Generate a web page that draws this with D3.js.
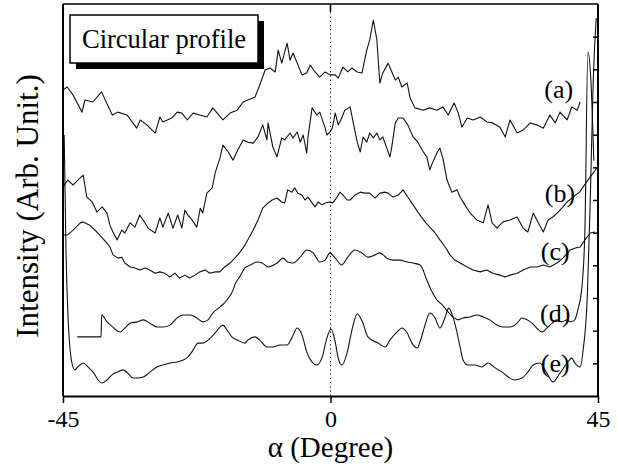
<!DOCTYPE html>
<html>
<head>
<meta charset="utf-8">
<script src="https://cdn.jsdelivr.net/npm/d3@7"></script>
<style>
  body { margin: 0; background: #fff; }
</style>
</head>
<body>
<div id="chart"></div>
<script>
// profiles: [angle (deg), intensity (arb.)]
var curveA = [[-45.0,9.37],[-44.3,9.46],[-43.3,9.21],[-41.8,8.69],[-41.3,9.06],[-40.0,9.00],[-38.5,9.31],[-37.9,9.06],[-36.7,8.60],[-35.8,8.69],[-34.2,8.60],[-32.6,8.20],[-32.0,8.45],[-30.9,8.30],[-29.5,8.05],[-28.7,8.54],[-28.2,8.39],[-26.7,8.51],[-25.8,8.69],[-25.0,8.66],[-24.1,8.45],[-23.1,8.66],[-22.0,8.60],[-20.8,8.54],[-19.8,8.82],[-18.1,8.45],[-16.9,8.66],[-15.7,8.75],[-14.7,9.00],[-13.9,9.06],[-12.7,9.15],[-11.9,9.52],[-11.0,9.98],[-10.2,10.04],[-9.3,9.92],[-8.8,10.59],[-8.2,10.19],[-7.3,10.80],[-6.8,10.28],[-6.3,10.50],[-5.6,10.19],[-4.8,9.83],[-4.0,9.89],[-3.4,10.13],[-2.6,9.92],[-1.8,9.76],[-0.9,9.92],[-0.1,9.83],[0.8,9.83],[1.3,9.73],[2.1,10.07],[2.9,9.92],[3.6,10.04],[4.5,9.92],[5.3,9.89],[6.1,10.59],[6.6,10.90],[7.2,11.51],[7.8,10.90],[8.3,9.58],[8.8,9.89],[9.7,10.19],[10.4,9.89],[10.9,9.67],[11.4,9.76],[12.0,9.46],[12.9,9.58],[13.4,9.12],[14.2,8.82],[15.6,8.75],[16.7,8.82],[17.9,8.75],[18.9,8.85],[19.8,8.60],[20.8,8.97],[21.5,8.66],[22.1,8.23],[23.0,8.51],[24.0,8.45],[25.2,8.54],[26.3,8.39],[27.3,8.36],[28.5,8.23],[29.4,7.93],[30.2,8.45],[31.4,8.05],[32.4,8.14],[33.6,8.36],[34.7,8.30],[35.8,8.20],[36.9,8.60],[37.8,8.36],[38.6,8.69],[39.8,8.45],[40.6,8.85],[41.5,8.75],[42.0,9.00]];

var curveB = [[-45.0,6.40],[-44.2,6.61],[-43.3,6.46],[-42.5,6.61],[-41.6,6.76],[-41.0,6.09],[-40.1,5.94],[-39.3,5.63],[-38.4,5.79],[-37.6,5.60],[-37.1,5.23],[-36.6,5.02],[-35.9,4.78],[-35.1,5.08],[-34.6,4.99],[-33.7,5.30],[-32.9,5.17],[-32.1,5.54],[-31.2,5.30],[-30.7,5.14],[-29.5,4.99],[-28.7,5.45],[-28.2,5.17],[-27.3,5.60],[-26.5,5.14],[-25.7,5.54],[-25.0,5.14],[-24.5,5.69],[-24.0,5.54],[-23.3,5.39],[-22.5,5.17],[-21.9,5.75],[-21.5,5.60],[-20.8,6.21],[-19.9,6.37],[-19.4,6.83],[-18.6,7.28],[-18.1,7.68],[-17.2,7.47],[-16.4,7.22],[-15.6,7.53],[-14.7,7.84],[-13.9,7.77],[-13.0,7.74],[-12.2,7.93],[-11.4,8.30],[-10.7,7.84],[-10.5,8.36],[-9.7,7.62],[-9.0,7.32],[-8.2,7.90],[-7.7,7.84],[-6.8,8.05],[-6.3,7.90],[-5.6,8.08],[-5.1,7.77],[-4.6,7.99],[-4.0,7.44],[-3.8,7.90],[-3.1,8.82],[-2.3,8.60],[-1.8,8.69],[-0.9,8.20],[-0.6,7.99],[-0.1,8.08],[0.3,8.20],[0.8,8.66],[1.3,8.30],[1.9,8.51],[2.4,8.75],[3.3,8.85],[3.8,8.39],[4.5,7.77],[5.0,7.47],[5.5,7.93],[6.1,7.77],[6.6,8.05],[7.2,7.90],[7.8,8.05],[8.3,7.84],[8.8,7.93],[10.0,7.32],[10.3,7.62],[10.9,8.36],[11.4,8.51],[12.2,8.51],[13.0,8.30],[13.9,7.93],[14.7,7.77],[15.4,7.53],[16.2,7.32],[16.7,6.92],[17.2,7.16],[17.9,7.44],[18.4,7.59],[18.9,7.28],[19.6,6.61],[20.4,6.24],[21.3,6.31],[21.8,6.09],[22.6,5.85],[23.5,5.60],[24.6,5.39],[25.7,5.30],[26.5,5.85],[27.2,5.30],[28.0,5.14],[29.0,5.33],[30.2,5.39],[31.4,5.48],[32.4,5.14],[33.2,5.02],[34.1,5.60],[34.9,5.33],[35.8,5.02],[36.6,5.39],[37.4,5.48],[38.3,5.63],[39.1,5.79],[39.8,5.94],[40.8,6.09],[41.9,6.24],[42.5,6.40],[43.3,6.61],[44.2,6.83],[44.8,6.98]];

var curveC = [[-45.0,4.93],[-44.2,4.93],[-43.3,5.08],[-42.1,5.30],[-41.6,5.33],[-40.5,5.23],[-39.3,5.02],[-38.4,4.84],[-37.6,4.68],[-37.1,4.56],[-36.6,4.32],[-35.7,4.22],[-35.1,4.25],[-34.6,4.07],[-33.7,3.95],[-32.9,3.92],[-32.1,3.86],[-31.2,3.92],[-30.4,3.86],[-29.5,3.76],[-28.7,3.80],[-27.9,3.76],[-27.0,3.64],[-26.2,3.76],[-25.4,3.61],[-24.5,3.70],[-23.7,3.61],[-22.8,3.70],[-22.0,3.80],[-21.1,3.86],[-20.3,3.76],[-19.4,3.80],[-18.6,3.80],[-17.8,3.95],[-16.9,4.07],[-16.1,4.22],[-15.2,4.41],[-14.4,4.62],[-13.9,4.78],[-13.0,5.08],[-12.2,5.39],[-11.4,5.75],[-10.5,5.91],[-9.8,6.00],[-9.0,6.06],[-8.2,5.94],[-7.7,5.91],[-7.2,6.31],[-6.5,6.24],[-6.0,6.37],[-5.5,6.21],[-4.8,6.15],[-4.3,6.00],[-3.8,6.09],[-3.1,5.91],[-2.6,5.79],[-2.1,5.94],[-1.4,5.85],[-0.9,5.91],[-0.1,5.94],[0.4,5.91],[1.1,6.09],[1.6,6.24],[2.1,6.15],[2.8,6.00],[3.3,6.00],[4.1,6.15],[5.0,6.24],[5.8,6.21],[6.6,6.21],[7.5,6.06],[8.3,6.21],[9.2,6.24],[9.7,6.21],[10.5,6.09],[11.4,6.15],[12.2,6.31],[13.0,6.09],[13.9,5.85],[14.7,5.63],[15.9,5.33],[16.7,5.17],[17.6,4.99],[18.4,4.78],[19.3,4.56],[20.1,4.32],[20.9,4.16],[21.8,4.07],[23.0,3.95],[24.0,3.86],[25.2,3.80],[26.3,3.86],[27.3,3.76],[28.5,3.70],[29.4,3.64],[30.2,3.70],[31.4,3.76],[32.4,3.86],[33.6,3.95],[34.7,3.95],[35.8,4.01],[36.9,3.95],[38.1,4.07],[39.1,4.22],[40.3,4.47],[41.2,4.53],[42.0,4.56],[42.8,4.78],[43.7,4.99],[44.5,5.02]];

var curveD = [[-42.6,1.81],[-38.6,1.81],[-38.5,2.48],[-37.6,2.27],[-36.6,2.11],[-35.4,1.96],[-34.6,2.08],[-33.7,2.23],[-32.5,2.27],[-31.5,2.33],[-30.4,2.23],[-29.2,2.11],[-28.2,2.11],[-27.0,2.17],[-25.8,2.39],[-24.8,2.48],[-23.6,2.48],[-22.5,2.39],[-21.5,2.27],[-20.6,2.33],[-19.8,2.54],[-18.6,2.72],[-17.4,2.94],[-16.4,3.24],[-16.1,3.40],[-15.2,3.67],[-14.4,3.92],[-13.5,4.01],[-12.4,4.10],[-11.5,4.07],[-10.5,3.95],[-9.0,4.07],[-8.0,4.22],[-7.2,4.10],[-6.3,4.07],[-5.1,4.25],[-4.0,4.47],[-2.9,4.38],[-1.8,4.10],[-0.9,4.16],[-0.1,4.38],[0.8,4.22],[1.9,4.01],[2.9,4.25],[4.1,4.47],[5.3,4.38],[6.3,4.25],[7.5,4.32],[8.3,4.38],[9.5,4.22],[10.5,4.16],[11.7,4.16],[12.9,4.10],[13.9,4.07],[15.1,4.01],[16.2,3.55],[17.1,3.18],[17.9,2.94],[18.8,2.79],[19.8,2.57],[20.6,2.42],[21.5,2.33],[22.3,2.39],[23.5,2.42],[24.6,2.48],[25.7,2.42],[26.8,2.33],[28.0,2.17],[29.0,2.11],[30.2,2.11],[31.4,2.23],[32.2,2.39],[33.1,2.33],[33.9,2.23],[34.7,2.08],[35.6,1.96],[36.4,2.08],[37.3,2.23],[38.1,2.33],[38.9,2.27],[39.8,2.33],[40.3,2.27],[41.1,2.33],[41.6,2.63],[42.3,3.34],[42.8,5.08],[43.3,10.53],[43.8,9.67],[44.3,7.20]];

var curveE = [[-44.8,7.99],[-44.5,4.47],[-44.2,2.63],[-43.5,1.01],[-43.0,0.80],[-42.5,0.89],[-41.6,1.01],[-40.8,0.89],[-39.8,0.70],[-39.1,0.49],[-38.4,0.40],[-37.6,0.49],[-36.8,0.64],[-35.9,0.73],[-34.9,0.80],[-34.1,0.70],[-33.2,0.55],[-32.4,0.55],[-31.5,0.58],[-30.4,0.73],[-29.2,0.89],[-28.2,0.95],[-27.0,1.01],[-25.8,1.04],[-24.8,1.10],[-24.0,1.19],[-23.1,1.41],[-22.3,1.62],[-21.5,1.62],[-20.6,1.71],[-19.4,1.93],[-18.6,2.11],[-18.1,2.17],[-17.4,2.02],[-16.6,1.81],[-15.6,1.71],[-14.4,1.62],[-13.9,1.71],[-12.7,1.81],[-11.9,1.71],[-10.7,1.50],[-9.7,1.50],[-8.5,1.56],[-7.3,1.56],[-6.5,1.78],[-5.6,2.08],[-4.8,1.87],[-4.0,1.35],[-3.1,1.04],[-2.3,0.95],[-1.4,1.19],[-0.6,1.78],[0.1,2.05],[0.8,1.65],[1.3,1.16],[1.9,0.95],[2.8,1.32],[3.6,2.02],[4.5,2.51],[5.3,2.30],[6.3,1.81],[8.0,1.62],[9.2,1.50],[10.0,1.71],[11.2,1.96],[12.0,2.08],[12.9,1.93],[13.7,1.62],[14.6,1.47],[15.1,1.68],[15.9,2.17],[16.7,2.54],[17.6,2.39],[18.4,2.08],[19.3,2.42],[19.9,2.69],[20.6,2.42],[21.3,1.93],[21.8,1.50],[22.3,1.10],[23.1,0.95],[24.3,0.95],[25.5,0.89],[26.5,1.01],[27.7,0.86],[28.9,0.73],[29.9,0.58],[31.0,0.49],[32.2,0.55],[33.2,0.73],[34.1,0.95],[35.2,1.01],[36.4,0.70],[37.4,0.43],[38.6,0.70],[39.8,1.01],[40.6,1.16],[41.1,1.01],[42.0,0.89],[42.5,1.41],[43.2,3.03],[43.7,6.00],[44.2,9.67],[44.7,11.57]];

var seriesLabels = ["(a)", "(b)", "(c)", "(d)", "(e)"];
// where each label sits, in data units
var labelAngles = [38.4, 38.6, 37.8, 37.8, 37.8];
var labelLevels = [9.12, 5.94, 4.16, 2.27, 0.73];

var xTicks = [-45, 0, 45];
var yTicks = [1, 2, 3, 4, 5, 6, 7, 8, 9, 10, 11];

var serif = "'Liberation Serif', 'DejaVu Serif', 'Times New Roman', serif";

var margin = {top: 4, right: 20, bottom: 74, left: 63};
var totalW = 618, totalH = 470;
var width = totalW - margin.left - margin.right;
var height = totalH - margin.top - margin.bottom;

var x = d3.scaleLinear().domain([-45, 45]).range([0, width]);
var y = d3.scaleLinear().domain([0, 12]).range([height, 0]);

var svg = d3.select("#chart").append("svg")
    .attr("width", totalW)
    .attr("height", totalH)
    .attr("font-family", serif)
    .style("display", "block")
  .append("g")
    .attr("transform", "translate(" + margin.left + "," + margin.top + ")");

//dotted line at 0 degree
svg.append("line")
  .attr("x1", x(0)).attr("x2", x(0))
  .attr("y1", 0).attr("y2", height)
  .attr("stroke", "#000")
  .attr("stroke-width", 1)
  .attr("stroke-dasharray", "1.2,3");

// curves
var line = d3.line()
  .x(function(d) { return x(d[0]); })
  .y(function(d) { return y(d[1]); });

var smooth = d3.line()
  .x(function(d) { return x(d[0]); })
  .y(function(d) { return y(d[1]); })
  .curve(d3.curveMonotoneX);

var series = [curveA, curveB, curveC, curveD, curveE];
series.forEach(function(s, i) {
  svg.append("path")
    .datum(s)
    .attr("fill", "none")
    .attr("stroke", "#111")
    .attr("stroke-width", 1.1)
    .attr("stroke-linejoin", "round")
    .attr("d", i < 3 ? line : smooth);
});

// frame
svg.append("line").attr("x1", 0).attr("x2", width).attr("y1", 0).attr("y2", 0)
  .attr("stroke", "#000").attr("stroke-width", 1.5);
svg.append("line").attr("x1", 0).attr("x2", 0).attr("y1", 0).attr("y2", height)
  .attr("stroke", "#000").attr("stroke-width", 2);
svg.append("line").attr("x1", width).attr("x2", width).attr("y1", 0).attr("y2", height)
  .attr("stroke", "#000").attr("stroke-width", 2);

// right side ticks pointing in
var yAxisRight = d3.axisLeft(y)
  .tickValues(yTicks)
  .tickSize(5)
  .tickSizeOuter(0)
  .tickFormat("");

svg.append("g")
  .attr("transform", "translate(" + width + ",0)")
  .call(yAxisRight)
  .call(function(g) { g.select(".domain").remove(); })
  .selectAll("line").attr("stroke-width", 1.5);

// top tick at 0
svg.append("line")
  .attr("x1", x(0)).attr("x2", x(0))
  .attr("y1", 0).attr("y2", 8)
  .attr("stroke", "#000").attr("stroke-width", 1.5);

var xAxis = d3.axisBottom(x)
  .tickValues(xTicks)
  .tickSize(7)
  .tickSizeOuter(0)
  .tickPadding(7)
  .tickFormat(function(d) { return d; });

var gx = svg.append("g")
  .attr("transform", "translate(0," + height + ")")
  .call(xAxis)
  .attr("font-family", serif)
  .attr("font-size", 24);
gx.select(".domain").attr("stroke-width", 2);
gx.selectAll(".tick line").attr("stroke-width", 1.5);
gx.selectAll("text").attr("fill", "#000");

// axis titles
svg.append("text")
  .attr("x", width / 2)
  .attr("y", height + 61)
  .attr("text-anchor", "middle")
  .attr("font-family", serif)
  .attr("font-size", 29)
  .text("α (Degree)");

svg.append("text")
  .attr("transform", "translate(" + (38 - margin.left) + "," + (206 - margin.top) + ") rotate(-90)")
  .attr("text-anchor", "middle")
  .attr("font-family", serif)
  .attr("font-size", 31)
  .text("Intensity (Arb. Unit.)");

// curve labels
seriesLabels.forEach(function(t, i) {
  svg.append("text")
    .attr("x", x(labelAngles[i]))
    .attr("y", y(labelLevels[i]))
    .attr("text-anchor", "middle")
    .attr("font-family", serif)
    .attr("font-size", 26)
    .text(t);
});

// legend box with drop shadow
var legend = svg.append("g")
  .attr("transform", "translate(" + (70 - margin.left) + "," + (15 - margin.top) + ")");

legend.append("rect")
  .attr("x", 6).attr("y", 6)
  .attr("width", 188).attr("height", 48)
  .attr("fill", "#000");

legend.append("rect")
  .attr("width", 188).attr("height", 48)
  .attr("fill", "#fff")
  .attr("stroke", "#000")
  .attr("stroke-width", 1.5);

legend.append("text")
  .attr("x", 12)
  .attr("y", 33)
  .attr("font-family", serif)
  .attr("font-size", 26.5)
  .text("Circular profile");
</script>
</body>
</html>
